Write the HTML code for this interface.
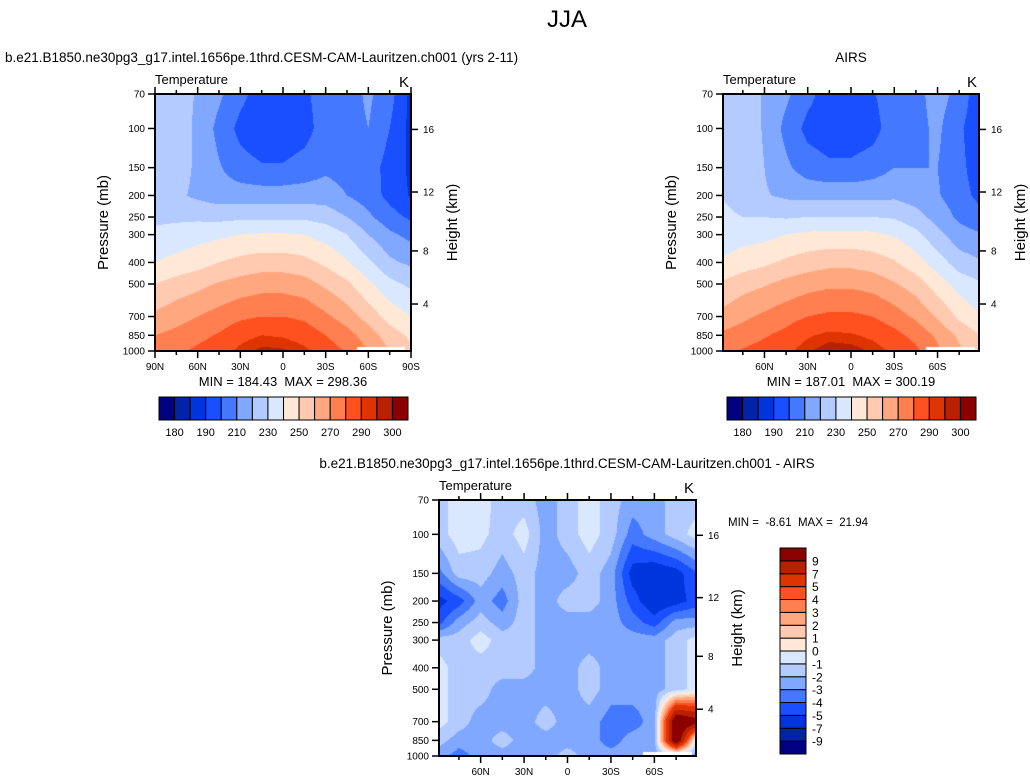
<!DOCTYPE html>
<html><head><meta charset="utf-8">
<style>
body{margin:0;background:#fff;}
#root{position:relative;width:1030px;height:783px;overflow:hidden;font-family:"Liberation Sans",sans-serif;}
canvas{position:absolute;}
svg{position:absolute;left:0;top:0;}
text{white-space:pre;}
</style></head>
<body>
<div id="root">
<canvas id="c1" width="256" height="257" style="left:155px;top:94px"></canvas>
<canvas id="c2" width="256" height="257" style="left:723px;top:94px"></canvas>
<canvas id="c3" width="257" height="256" style="left:439px;top:500px"></canvas>
<svg id="svg" width="1030" height="783"></svg>
</div>
<script>
// ---- data ----
const levels = [70,100,150,200,250,300,400,500,700,850,1000];
const lats = [90,75,60,45,30,15,0,-15,-30,-45,-60,-75,-90];
// model temperature [level][lat]
const modelT = [
[225,225,219,212,203,195,195,198,205,205,212,204,187],
[225,225,218,207,197,193,193,196,205,205,210,200,187],
[225,225,218,211,204,201,201,204,208,206,205,196,188],
[225,222,218,215,215,215,215,215,215,210,205,197,189],
[228,228,228,227,228,228,228,228,226,220,212,204,198],
[232,234,236,238,240,241,241,240,236,230,220,212,207],
[240,243,246,250,253,255,255,253,248,241,232,222,218],
[250,254,257,261,264,266,266,264,258,252,242,233,228],
[262,266,270,274,278,280,280,278,272,265,256,246,240],
[270,273,277,281,287,290,289,286,280,274,265,255,248],
[275,278,282,286,292,297,296,292,285,279,270,260,252]];
const airsT = [
[225,225,219,212,203,195,196,199,206,207,214,207,192],
[226,226,219,207,197,194,194,196,206,207,212,202,192],
[228,226,220,212,205,202,202,205,210,210,210,203,194],
[230,226,221,218,217,217,217,217,218,215,211,204,197],
[232,230,230,229,230,230,230,230,229,224,216,208,203],
[234,236,237,240,242,243,243,242,239,233,223,214,211],
[241,245,248,252,255,257,257,255,251,244,235,225,221],
[251,256,259,263,266,268,268,266,261,255,245,236,231],
[263,268,272,276,280,282,282,280,275,268,259,248,240],
[272,275,279,283,289,292,291,288,283,277,268,258,250],
[277,281,284,288,294,299,298,294,288,282,272,262,254]];
const diffT = [
[-1.5,-0.5,-0.5,-1.5,-1.5,-2.5,-1.5,-0.5,-1.5,-2.5,-2.5,-1.5,-1.5],
[-1.5,-0.5,-0.7,-1.5,-0.5,-2.5,-1.5,-0.5,-1.5,-3.5,-2.5,-1.5,-0.5],
[-3.5,-1.5,-1.5,-2.5,-1.5,-2.5,-2.5,-1.5,-2.5,-5.5,-6,-5.5,-4],
[-5.5,-4.5,-2.5,-3.5,-1.5,-2.5,-1.5,-1.5,-2.5,-4.5,-6,-5.5,-4.5],
[-4.5,-2.5,-1.5,-2.5,-1.5,-2.5,-2.5,-2.5,-2.5,-3.5,-4.5,-2.5,-2.5],
[-1.5,-1.5,-0.5,-1.5,-1.5,-2.5,-2.5,-2.5,-2.5,-2.5,-2.5,-1.5,-0.5],
[-0.5,-1.5,-1.5,-1.5,-1.5,-2.5,-2.5,-1.5,-2.5,-2.5,-2.5,-1.5,-0.5],
[-0.5,-1.5,-1.5,-2.5,-2.5,-2.5,-2.5,-1.5,-2.5,-2.5,-2.5,-1.5,-0.5],
[-0.5,-1.5,-2.5,-2.5,-2.5,-1.5,-2.5,-2.5,-3.5,-3.5,-2.5,12,10],
[-1.5,-2.5,-2.5,-1.5,-2.5,-2.5,-2.5,-2.5,-3.5,-2.5,-2.5,12,-2],
[-2.5,-3.5,-2.5,-2.5,-2.5,-2.5,-1.5,-2.5,-2.5,-2.5,-2.5,-2.5,-2.5]];
// below-surface masked region (lat from, lat to, pressure)
const missingLat = [-52,-86];
const missingP = 960;
const tBounds = [180,185,190,200,210,220,230,240,250,260,270,280,290,295,300];
const tLabels = ["180","190","210","230","250","270","290","300"];
const dBounds = [-9,-7,-5,-4,-3,-2,-1,0,1,2,3,4,5,7,9];
const dLabels = ["-9","-7","-5","-4","-3","-2","-1","0","1","2","3","4","5","7","9"];
const pTicks = [70,100,150,200,250,300,400,500,700,850,1000];
const hTicks = [4,8,12,16];
const hPress = [615,355,193,101];
const palette = ["#000080","#0023a8","#0035dd","#1a4fff","#4479ff","#80a8ff","#b3cbff","#d9e8ff","#ffe8d6","#ffcab0","#ffa880","#ff7f50","#ff5020","#e03400","#b82000","#8b0000"];

// ---- helpers ----
const L0=Math.log(70),L1=Math.log(1000);
function yOfP(top,h,p){return top+(Math.log(p)-L0)/(L1-L0)*h;}
function hex(c){return [parseInt(c.substr(1,2),16),parseInt(c.substr(3,2),16),parseInt(c.substr(5,2),16)];}
const rgb=palette.map(hex);
function colorIdx(v,b){let i=0;while(i<b.length&&v>=b[i])i++;return i;}
function sample(grid,lat,p){
  let fx=(90-lat)/15; let i=Math.min(11,Math.max(0,Math.floor(fx))); let tx=Math.min(1,Math.max(0,fx-i));
  const lp=Math.log(p); let j=0; while(j<levels.length-2&&lp>Math.log(levels[j+1]))j++;
  let ty=(lp-Math.log(levels[j]))/(Math.log(levels[j+1])-Math.log(levels[j])); ty=Math.min(1,Math.max(0,ty));
  const a=grid[j][i],b=grid[j][i+1],c=grid[j+1][i],d=grid[j+1][i+1];
  return a*(1-tx)*(1-ty)+b*tx*(1-ty)+c*(1-tx)*ty+d*tx*ty;
}
function drawField(id,grid,bounds,latMax){
  const cv=document.getElementById(id),ctx=cv.getContext('2d');
  const W=cv.width,H=cv.height,img=ctx.createImageData(W,H);
  for(let y=0;y<H;y++){
    const p=Math.exp(L0+(y+0.5)/H*(L1-L0));
    for(let x=0;x<W;x++){
      const lat=latMax-(x+0.5)/W*2*latMax;
      const k=(y*W+x)*4;
      let c=[255,255,255];
      const masked = p>missingP && lat<missingLat[0] && lat>missingLat[1];
      if(!masked) c=rgb[colorIdx(sample(grid,lat,p),bounds)];
      img.data[k]=c[0];img.data[k+1]=c[1];img.data[k+2]=c[2];img.data[k+3]=255;
    }
  }
  ctx.putImageData(img,0,0);
}
drawField('c1',modelT,tBounds,90);
drawField('c2',airsT,tBounds,88.75);
drawField('c3',diffT,dBounds,88.75);

const svg=document.getElementById('svg');const NS='http://www.w3.org/2000/svg';
function el(tag,attrs,parent){const e=document.createElementNS(NS,tag);for(const k in attrs)e.setAttribute(k,attrs[k]);(parent||svg).appendChild(e);return e;}
function txt(x,y,s,size,anchor,name,extra){const t=el('text',Object.assign({x:x,y:y,'font-size':size,'text-anchor':anchor||'start','font-family':'Liberation Sans, sans-serif',fill:'#000'},extra||{}));t.textContent=s;


return t;}

function panel(px,py,w,h,latMax,latLabels,prefix){
  const g=el('g',{});
  
  
  el('rect',{x:px,y:py,width:w,height:h,fill:'none',stroke:'#000','stroke-width':2},g);
  const xOf=lat=>px+(latMax-lat)/(2*latMax)*w;
  for(let lat=-90;lat<=90;lat+=15){ if(Math.abs(lat)>latMax+0.01)continue;
    const x=xOf(lat),len=(lat%30===0)?7:4;
    el('line',{x1:x,y1:py+h,x2:x,y2:py+h+len,stroke:'#000','stroke-width':1.5},g);
    el('line',{x1:x,y1:py,x2:x,y2:py-len,stroke:'#000','stroke-width':1.5},g);
  }
  for(const [lat,s] of latLabels){txt(xOf(lat),py+h+19,s,10,'middle',prefix+'-lat-label');}
  for(const p of pTicks){const y=yOfP(py,h,p);
    el('line',{x1:px-7,y1:y,x2:px,y2:y,stroke:'#000','stroke-width':1.5},g);
    txt(px-10,y+3.5,String(p),10,'end',prefix+'-pressure-tick');}
  hTicks.forEach((z,i)=>{const y=yOfP(py,h,hPress[i]);
    el('line',{x1:px+w,y1:y,x2:px+w+7,y2:y,stroke:'#000','stroke-width':1.5},g);
    txt(px+w+12,y+3.5,String(z),10,'start',prefix+'-height-tick');});
  txt(px,py-10,'Temperature',13,'start',prefix+'-variable-label');
  txt(px+w-2,py-7,'K',15,'end',prefix+'-units-label');
  txt(px-47,py+h/2,'Pressure (mb)',15,'middle',prefix+'-y-axis-title',{transform:`rotate(-90 ${px-47} ${py+h/2})`});
  txt(px+w+46,py+h/2,'Height (km)',15,'middle',prefix+'-right-axis-title',{transform:`rotate(-90 ${px+w+46} ${py+h/2})`});
}
function hbar(x,y,w,h,labels,prefix){
  const n=palette.length,bw=w/n;
  palette.forEach((c,i)=>{const r=el('rect',{x:x+i*bw,y:y,width:bw,height:h,fill:c,stroke:'#000','stroke-width':1});
    
    });
  labels.forEach((s,i)=>{txt(x+bw*(1+2*i),y+h+16,s,11,'middle',prefix+'-colorbar-label');});
}
txt(567,27,'JJA',24,'middle','figure-title');
txt(5,62,'b.e21.B1850.ne30pg3_g17.intel.1656pe.1thrd.CESM-CAM-Lauritzen.ch001 (yrs 2-11)',13.5,'start','model-panel-title');
txt(851,62,'AIRS',13.5,'middle','airs-panel-title');
txt(567,468,'b.e21.B1850.ne30pg3_g17.intel.1656pe.1thrd.CESM-CAM-Lauritzen.ch001 - AIRS',13.5,'middle','difference-panel-title');

panel(155,94,256,257,90,[[90,'90N'],[60,'60N'],[30,'30N'],[0,'0'],[-30,'30S'],[-60,'60S'],[-90,'90S']],'model');
panel(723,94,256,257,88.75,[[60,'60N'],[30,'30N'],[0,'0'],[-30,'30S'],[-60,'60S']],'airs');
panel(439,500,257,256,88.75,[[60,'60N'],[30,'30N'],[0,'0'],[-30,'30S'],[-60,'60S']],'diff');

txt(283,386,'MIN = 184.43  MAX = 298.36',13,'middle','model-min-max');
txt(851,386,'MIN = 187.01  MAX = 300.19',13,'middle','airs-min-max');
txt(728,526,'MIN =  -8.61  MAX =  21.94',11.5,'start','diff-min-max');

hbar(159,397,249,23,tLabels,'model');
hbar(727,397,249,23,tLabels,'airs');
// vertical diff colorbar
(function(){const x=780,y=548,w=26,h=206,n=palette.length,bh=h/n;
  palette.forEach((c,i)=>{const r=el('rect',{x:x,y:y+h-(i+1)*bh,width:w,height:bh,fill:c,stroke:'#000','stroke-width':1});
    
    });
  dLabels.forEach((s,i)=>{txt(x+w+6,y+h-(i+1)*bh+4.5,s,12,'start','diff-colorbar-label');});
})();
</script>
</body></html>
